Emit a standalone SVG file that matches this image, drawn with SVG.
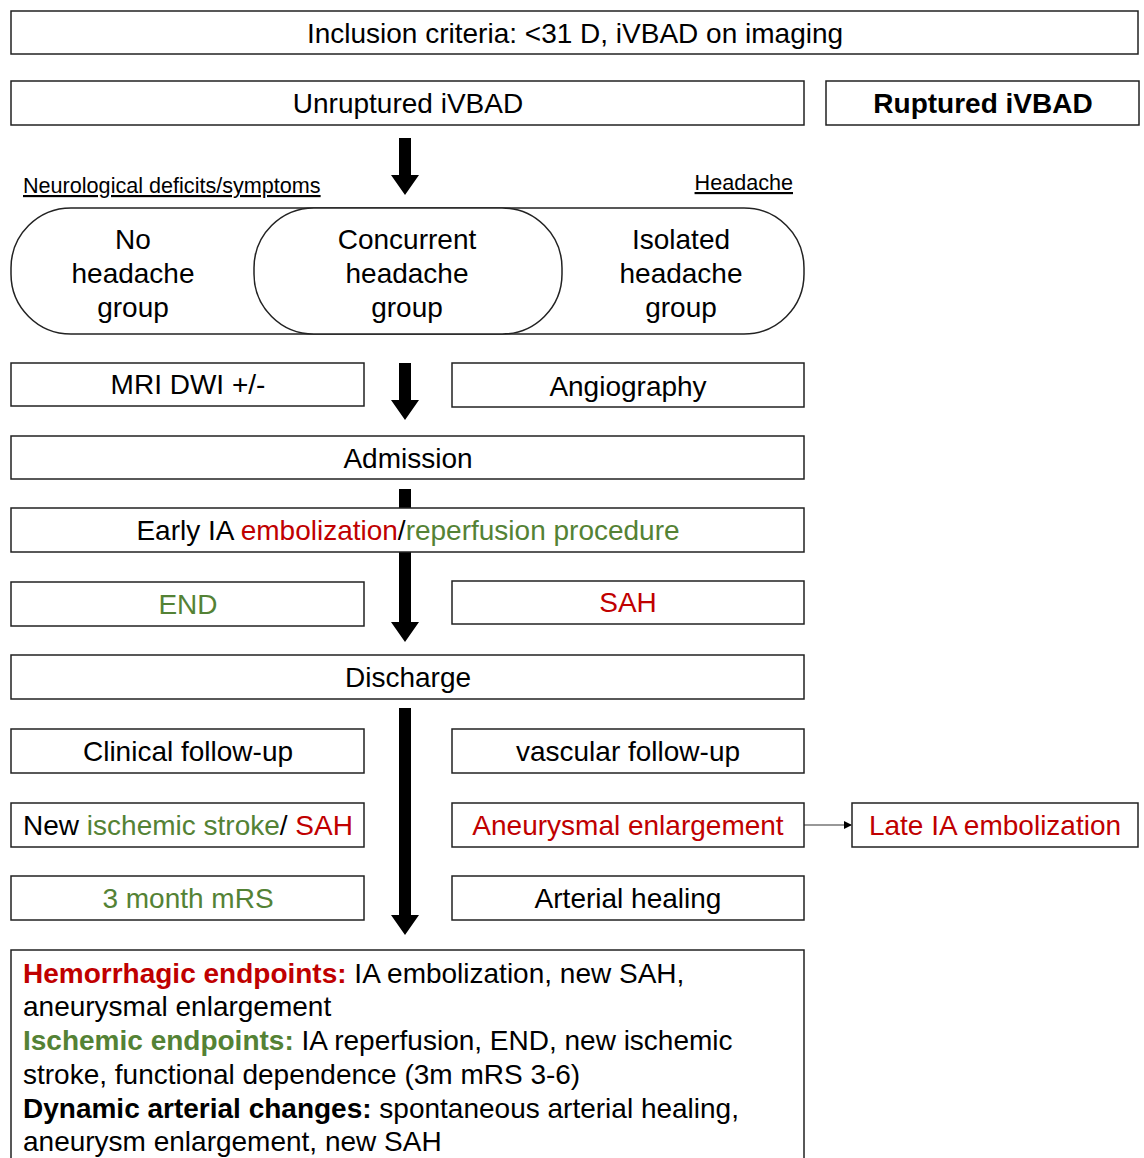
<svg xmlns="http://www.w3.org/2000/svg" width="1144" height="1158" viewBox="0 0 1144 1158">
<style>
.b{fill:#fff;stroke:#222;stroke-width:1.5}
.t{font-family:"Liberation Sans",Arial,sans-serif;font-size:28px;fill:#000;text-anchor:middle}
.l{font-family:"Liberation Sans",Arial,sans-serif;font-size:28px;fill:#000}
.s{font-family:"Liberation Sans",Arial,sans-serif;font-size:21.6px;fill:#000;text-decoration:underline}
.r{fill:#C00000}
.g{fill:#548235}
.bd{font-weight:bold}
.ar{fill:#000}
</style>
<defs>
<marker id="m" markerWidth="8" markerHeight="8" refX="7" refY="4" orient="auto" markerUnits="userSpaceOnUse">
<path d="M0,0 L8,4 L0,8 z" fill="#000"/>
</marker>
</defs>
<rect width="1144" height="1158" fill="#fff"/>
<g id="connectors">
<path class="ar" d="M399,138 H411 V175 H419 L405,195 L391,175 H399 Z"/>
<path class="ar" d="M399,363 H411 V400 H419 L405,420 L391,400 H399 Z"/>
<rect class="ar" x="399" y="489" width="12" height="19"/>
<path class="ar" d="M399,552 H411 V622 H419 L405,642 L391,622 H399 Z"/>
<path class="ar" d="M399,708 H411 V915 H419 L405,935 L391,915 H399 Z"/>
<line x1="804" y1="825" x2="851" y2="825" stroke="#333" stroke-width="1.2" marker-end="url(#m)"/>
</g>
<g id="inclusion"><rect class="b" x="11" y="11" width="1127" height="43"/><text class="t" x="575" y="43">Inclusion criteria: &lt;31 D, iVBAD on imaging</text></g>
<g id="unruptured"><rect class="b" x="11" y="81" width="793" height="44"/><text class="t" x="408" y="113">Unruptured iVBAD</text></g>
<g id="ruptured"><rect class="b" x="826" y="81" width="313" height="44"/><text class="t bd" x="983" y="113">Ruptured iVBAD</text></g>
<g id="labels"><text class="s" x="23" y="193">Neurological deficits/symptoms</text><text class="s" x="793" y="190" text-anchor="end">Headache</text></g>
<g id="groups">
<rect class="b" x="11" y="208" width="793" height="126" rx="60" ry="60"/>
<rect class="b" x="254" y="208" width="308" height="126" rx="60" ry="60"/>
<text class="t"><tspan x="133" y="249">No</tspan><tspan x="133" y="283">headache</tspan><tspan x="133" y="317">group</tspan></text>
<text class="t"><tspan x="407" y="249">Concurrent</tspan><tspan x="407" y="283">headache</tspan><tspan x="407" y="317">group</tspan></text>
<text class="t"><tspan x="681" y="249">Isolated</tspan><tspan x="681" y="283">headache</tspan><tspan x="681" y="317">group</tspan></text>
</g>
<g id="mri"><rect class="b" x="11" y="363" width="353" height="43"/><text class="t" x="188" y="394">MRI DWI +/-</text></g>
<g id="angio"><rect class="b" x="452" y="363" width="352" height="44"/><text class="t" x="628" y="396">Angiography</text></g>
<g id="admission"><rect class="b" x="11" y="436" width="793" height="43"/><text class="t" x="408" y="468">Admission</text></g>
<g id="early"><rect class="b" x="11" y="508" width="793" height="44"/><text class="t" x="408" y="540">Early IA <tspan class="r">embolization</tspan>/<tspan class="g">reperfusion procedure</tspan></text></g>
<g id="end"><rect class="b" x="11" y="582" width="353" height="44"/><text class="t g" x="188" y="614">END</text></g>
<g id="sah"><rect class="b" x="452" y="581" width="352" height="43"/><text class="t r" x="628" y="612">SAH</text></g>
<g id="discharge"><rect class="b" x="11" y="655" width="793" height="44"/><text class="t" x="408" y="687">Discharge</text></g>
<g id="clinical"><rect class="b" x="11" y="729" width="353" height="44"/><text class="t" x="188" y="761">Clinical follow-up</text></g>
<g id="vascular"><rect class="b" x="452" y="729" width="352" height="44"/><text class="t" x="628" y="761">vascular follow-up</text></g>
<g id="newstroke"><rect class="b" x="11" y="803" width="353" height="44"/><text class="t" x="188" y="835">New <tspan class="g">ischemic stroke</tspan>/ <tspan class="r">SAH</tspan></text></g>
<g id="enlargement"><rect class="b" x="452" y="803" width="352" height="44"/><text class="t r" x="628" y="835">Aneurysmal enlargement</text></g>
<g id="late"><rect class="b" x="852" y="803" width="286" height="44"/><text class="t r" x="995" y="835">Late IA embolization</text></g>
<g id="mrs"><rect class="b" x="11" y="876" width="353" height="44"/><text class="t g" x="188" y="908">3 month mRS</text></g>
<g id="healing"><rect class="b" x="452" y="876" width="352" height="44"/><text class="t" x="628" y="908">Arterial healing</text></g>
<g id="endpoints">
<rect class="b" x="11" y="950" width="793" height="220"/>
<text class="l" x="23" y="983"><tspan class="r bd">Hemorrhagic endpoints:</tspan> IA embolization, new SAH,</text>
<text class="l" x="23" y="1016">aneurysmal enlargement</text>
<text class="l" x="23" y="1050"><tspan class="g bd">Ischemic endpoints:</tspan> IA reperfusion, END, new ischemic</text>
<text class="l" x="23" y="1084">stroke, functional dependence (3m mRS 3-6)</text>
<text class="l" x="23" y="1118"><tspan class="bd">Dynamic arterial changes:</tspan> spontaneous arterial healing,</text>
<text class="l" x="23" y="1151">aneurysm enlargement, new SAH</text>
</g>
</svg>
